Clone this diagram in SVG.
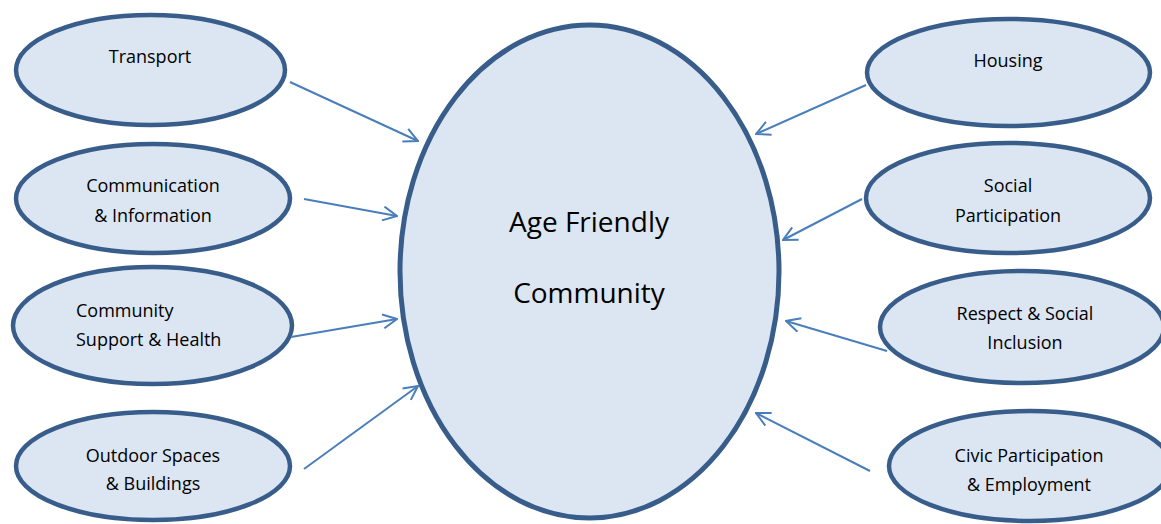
<svg xmlns="http://www.w3.org/2000/svg" width="1161" height="524" viewBox="0 0 1161 524">
<defs>
<style>
.node ellipse{fill:#dce6f2;stroke:#385d8a;stroke-width:4.5}
#center ellipse{stroke-width:5}
text{font-family:"Open Sans","Liberation Sans",sans-serif;font-size:18px;fill:#000;text-anchor:middle}
.big{font-size:28px}
.conn line{stroke:#4a7ebb;stroke-width:2;marker-end:url(#arr)}
</style>
<marker id="arr" viewBox="0 0 16 16" refX="15" refY="8" markerWidth="16" markerHeight="16" markerUnits="userSpaceOnUse" orient="auto">
<path d="M1,1 L15,8 L1,15" fill="none" stroke="#4a7ebb" stroke-width="2"/>
</marker>
</defs>
<rect width="1161" height="524" fill="#fff"/>
<g id="center" class="node"><ellipse cx="589.5" cy="271.5" rx="189.5" ry="246.5"/><text class="big" x="589" y="232">Age Friendly</text><text class="big" x="589" y="303">Community</text></g>
<g id="transport" class="node"><ellipse cx="150.5" cy="70" rx="134.5" ry="55"/><text x="150" y="63">Transport</text></g>
<g id="communication" class="node"><ellipse cx="153" cy="198.5" rx="137" ry="54.5"/><text x="153" y="192">Communication</text><text x="153" y="222">&amp; Information</text></g>
<g id="community-support" class="node"><ellipse cx="152.5" cy="325.5" rx="139.5" ry="58.5"/><text x="76" y="317" style="text-anchor:start">Community</text><text x="76" y="346" style="text-anchor:start">Support &amp; Health</text></g>
<g id="outdoor" class="node"><ellipse cx="153" cy="466" rx="137" ry="54"/><text x="153" y="462">Outdoor Spaces</text><text x="153" y="490">&amp; Buildings</text></g>
<g id="housing" class="node"><ellipse cx="1008.5" cy="72.5" rx="141.5" ry="53.5"/><text x="1008" y="67">Housing</text></g>
<g id="social" class="node"><ellipse cx="1008" cy="198" rx="142" ry="55"/><text x="1008" y="192">Social</text><text x="1008" y="222">Participation</text></g>
<g id="respect" class="node"><ellipse cx="1022" cy="327" rx="142" ry="56"/><text x="1025" y="320">Respect &amp; Social</text><text x="1025" y="349">Inclusion</text></g>
<g id="civic" class="node"><ellipse cx="1030" cy="466" rx="141" ry="55"/><text x="1029" y="462">Civic Participation</text><text x="1029" y="491">&amp; Employment</text></g>
<g id="connectors" class="conn">
<line x1="290" y1="82" x2="418" y2="141"/>
<line x1="304" y1="199" x2="397" y2="216"/>
<line x1="291" y1="337" x2="397" y2="319"/>
<line x1="304" y1="469" x2="418" y2="386"/>
<line x1="866" y1="85" x2="756" y2="134"/>
<line x1="862" y1="199" x2="783" y2="240"/>
<line x1="887" y1="351" x2="786" y2="321"/>
<line x1="870" y1="471" x2="756" y2="413"/>
</g>
</svg>
